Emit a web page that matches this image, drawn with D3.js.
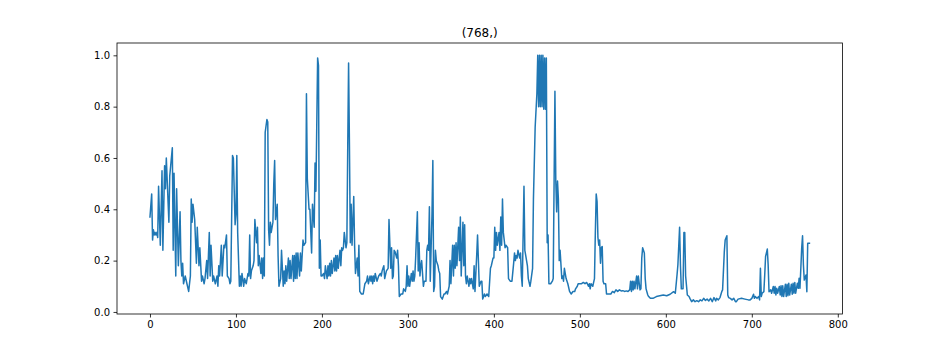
<!DOCTYPE html>
<html>
<head>
<meta charset="utf-8">
<script src="https://cdn.jsdelivr.net/npm/d3@7"></script>
<style>
  body { margin: 0; background: #fff; }
  svg { display: block; font-family: "DejaVu Sans", sans-serif; }
  .tick text { font-size: 10px; fill: #000; }
  .tick line { stroke: #000; stroke-width: 0.8; }
</style>
</head>
<body>
<div id="chart"></div>
<script>
// values, as [index, value] pairs, by region
const part0 = [[0,.37],[2,.46],[3,.28],[4,.32],[5,.30],[6,.31],[7,.30],[8,.31],[9,.29],[10,.49],[12,.26],[14,.55],[15,.24],[17,.57],[18,.48],[19,.60],[22,.35],[23,.53],[26,.64],[27,.24],[28,.54],[30,.14],[31,.48],[33,.18],[35,.39],[36,.20],[37,.14],[38,.19],[39,.11],[41,.14],[43,.11],[45,.08],[47,.14],[48,.44],[49,.35],[50,.42],[52,.36],[54,.19],[55,.33],[57,.18],[58,.25],[60,.12],[61,.14],[63,.11],[64,.13],[66,.20],[67,.13],[69,.31],[70,.14],[71,.26],[73,.12],[74,.14],[76,.11],[78,.14],[79,.10],[80,.18],[81,.14],[83,.26],[84,.14],[85,.20],[86,.26]];
const part1 = [[87,.25],[89,.30],[90,.14],[92,.13],[93,.11],[94,.12],[96,.61],[97,.60],[99,.34],[100,.38],[101,.61],[102,.31],[104,.10],[105,.14],[106,.10],[107,.15],[109,.10],[110,.13],[112,.11],[114,.15],[115,.14],[116,.30],[117,.13],[118,.16],[120,.18],[121,.20],[122,.36],[124,.27],[125,.33],[126,.18],[127,.22],[129,.15],[130,.21],[131,.13],[132,.21],[133,.14],[134,.70],[136,.75],[137,.74],[138,.32],[139,.26],[140,.35],[141,.31],[143,.35],[144,.50],[145,.59],[146,.36],[148,.42],[149,.22],[150,.10],[152,.13],[153,.24],[155,.10],[156,.16],[157,.11],[158,.18],[159,.12],[161,.21],[162,.13],[163,.20],[164,.13],[166,.22],[167,.12],[168,.22],[169,.13],[170,.23],[171,.13],[172,.23],[174,.14],[175,.23],[176,.16],[177,.22],[178,.28],[179,.26],[181,.27],[182,.85],[183,.52],[185,.40]];
const part2 = [[186,.40],[188,.23],[189,.42],[191,.33],[192,.58],[193,.47],[195,.99],[196,.96],[197,.17],[198,.28],[199,.14],[200,.14],[202,.15],[203,.13],[204,.18],[206,.13],[207,.18],[208,.14],[209,.19],[210,.14],[211,.20],[212,.15],[214,.21],[215,.16],[216,.22],[217,.16],[218,.22],[219,.17],[221,.24],[222,.18],[223,.25],[224,.24],[225,.25],[226,.31],[228,.25],[229,.27],[230,.64],[231,.97],[232,.65],[233,.27],[234,.42],[235,.26],[237,.45],[238,.26],[239,.15],[241,.21],[242,.14],[243,.26],[244,.08],[246,.07],[248,.07],[250,.11],[252,.12],[253,.14],[254,.11],[256,.14],[257,.12],[258,.14],[259,.11],[260,.14],[261,.12],[262,.15],[264,.12],[266,.14],[268,.15],[269,.14],[270,.16],[271,.17],[272,.18],[273,.13],[275,.16],[277,.17],[278,.36],[280,.17],[281,.25],[282,.13],[283,.14],[284,.24]];
const part3 = [[285,.235],[287,.21],[288,.24],[289,.18],[290,.06],[292,.07],[294,.07],[295,.09],[297,.08],[298,.10],[299,.18],[300,.10],[301,.14],[302,.10],[304,.15],[305,.12],[306,.16],[307,.12],[308,.14],[309,.21],[311,.39],[312,.16],[313,.27],[314,.14],[315,.18],[316,.20],[318,.10],[319,.12],[321,.12],[322,.24],[323,.26],[324,.24],[325,.41],[326,.12],[328,.38],[329,.59],[330,.08],[331,.10],[332,.24],[333,.20],[335,.18],[336,.16],[337,.15],[338,.06],[340,.05],[342,.07],[343,.07],[345,.08],[346,.07],[348,.10],[349,.20],[350,.11],[352,.26],[353,.14],[354,.26],[355,.17],[356,.27],[357,.18],[359,.33],[360,.20],[361,.37],[362,.14],[364,.35],[365,.18],[366,.34],[367,.14],[368,.11],[369,.14],[371,.10],[372,.13],[373,.11],[374,.13],[376,.09],[377,.18],[378,.08],[380,.22],[381,.30],[383,.10]];
const part4 = [[385,.12],[386,.12],[387,.05],[389,.07],[390,.06],[392,.07],[394,.06],[396,.17],[397,.18],[399,.21],[400,.21],[401,.33],[402,.24],[403,.31],[404,.26],[406,.31],[407,.24],[408,.37],[409,.26],[410,.44],[411,.31],[413,.25],[414,.26],[416,.25],[417,.13],[419,.12],[421,.12],[423,.19],[424,.23],[425,.20],[426,.22],[427,.21],[428,.24],[430,.21],[431,.23],[432,.14],[433,.10],[435,.49],[436,.24],[437,.22],[439,.18],[440,.13],[442,.10],[443,.12],[445,.17],[446,.44],[448,.72],[450,.85],[451,1.0],[452,.80],[453,1.0],[454,.80],[455,1.0],[456,.80],[457,1.0],[458,.79],[459,.99],[460,.79],[461,.99],[462,.27],[463,.30],[464,.11],[466,.11],[468,.12],[469,.13],[471,.86],[472,.51],[473,.39],[474,.51],[475,.44],[476,.20],[477,.24],[479,.13],[480,.14],[481,.12],[482,.17]];
const part5 = [[484,.13],[486,.11],[488,.08],[490,.07],[492,.08],[494,.08],[495,.09],[497,.10],[498,.11],[500,.11],[502,.11],[504,.115],[506,.11],[508,.115],[510,.10],[511,.11],[512,.09],[513,.11],[515,.10],[516,.115],[517,.13],[518,.31],[519,.46],[520,.43],[521,.29],[522,.26],[523,.28],[524,.19],[525,.25],[526,.255],[527,.12],[528,.11],[530,.11],[531,.07],[532,.07],[534,.07],[536,.07],[538,.08],[540,.075],[542,.086],[544,.08],[546,.086],[548,.082],[550,.083],[552,.08],[554,.082],[556,.08],[558,.086],[559,.12],[560,.08],[561,.12],[562,.086],[563,.12],[564,.09],[566,.14],[567,.09],[568,.14],[570,.086],[571,.09],[572,.21],[573,.25],[575,.23],[576,.13],[577,.09],[579,.066],[580,.06]];
const part6 = [[582,.053],[585,.053],[589,.06],[593,.063],[597,.066],[601,.063],[605,.069],[609,.079],[611,.073],[613,.144],[614,.183],[616,.33],[617,.18],[618,.09],[620,.09],[621,.31],[622,.31],[623,.14],[625,.066],[627,.06],[628,.053],[630,.04],[632,.047],[634,.04],[636,.044],[638,.04],[640,.047],[642,.043],[644,.053],[646,.045],[648,.05],[650,.043],[652,.053],[654,.04],[656,.056],[658,.043],[659,.053],[661,.047],[663,.056],[665,.079],[666,.086],[668,.235],[669,.28],[671,.297],[672,.066],[673,.056],[675,.053],[677,.047],[679,.053]];
const part7 = [[681,.04],[682,.04],[684,.05],[688,.053],[692,.05],[696,.047],[698,.047],[700,.053],[702,.069],[703,.053],[704,.06],[706,.053],[708,.06],[709,.047],[710,.17],[711,.06],[712,.073],[714,.079],[715,.144],[716,.216],[718,.245],[719,.183],[720,.079],[722,.086],[723,.073],[725,.099],[726,.073],[727,.099],[728,.066],[729,.092],[730,.073],[732,.099],[733,.066],[734,.102],[735,.06],[736,.102],[737,.06],[739,.108],[740,.06],[741,.108],[742,.063],[743,.112],[744,.066],[746,.108],[747,.069],[748,.112],[749,.073],[750,.115],[751,.073],[753,.112],[754,.092],[755,.131],[756,.092],[758,.248],[759,.297],[760,.183],[761,.124],[763,.144],[764,.079],[765,.268],[767,.268]];

const xTicks = [0, 100, 200, 300, 400, 500, 600, 700, 800];
const yTicks = [0.0, 0.2, 0.4, 0.6, 0.8, 1.0];
const title = "(768,)";

const series = [].concat(part0, part1, part2, part3, part4, part5, part6, part7);

const W = 936, H = 360;
const margin = {top: 43, right: 936 - 842.4, bottom: 360 - 314, left: 117};

const svg = d3.select("#chart").append("svg")
    .attr("width", W)
    .attr("height", H);

// matplotlib style 5% margins around the data
const xExt = d3.extent(series, d => d[0]);
const yExt = d3.extent(series, d => d[1]);
const xPad = (xExt[1] - xExt[0]) * 0.05;
const yPad = (yExt[1] - yExt[0]) * 0.05;

const x = d3.scaleLinear()
    .domain([xExt[0] - xPad, xExt[1] + xPad])
    .range([margin.left, W - margin.right]);
const y = d3.scaleLinear()
    .domain([yExt[0] - yPad, yExt[1] + yPad])
    .range([H - margin.bottom, margin.top]);

svg.append("path")
    .datum(series)
    .attr("fill", "none")
    .attr("stroke", "#1f77b4")
    .attr("stroke-width", 1.5)
    .attr("stroke-linejoin", "round")
    .attr("stroke-linecap", "square")
    .attr("d", d3.line().x(d => x(d[0])).y(d => y(d[1])));

const xAxis = svg.append("g")
    .attr("transform", `translate(0,${H - margin.bottom})`)
    .call(d3.axisBottom(x).tickValues(xTicks).tickSize(3.5).tickPadding(3.5).tickFormat(d3.format("d")));
xAxis.select(".domain").remove();

const yAxis = svg.append("g")
    .attr("transform", `translate(${margin.left},0)`)
    .call(d3.axisLeft(y).tickValues(yTicks).tickSize(3.5).tickPadding(3.5).tickFormat(d3.format(".1f")));
yAxis.select(".domain").remove();

svg.selectAll(".tick text").attr("font-family", "DejaVu Sans, sans-serif");

// spines
svg.append("rect")
    .attr("x", margin.left)
    .attr("y", margin.top)
    .attr("width", W - margin.right - margin.left)
    .attr("height", H - margin.bottom - margin.top)
    .attr("fill", "none")
    .attr("stroke", "#000")
    .attr("stroke-width", 0.8);

svg.append("text")
    .attr("x", (margin.left + W - margin.right) / 2)
    .attr("y", margin.top - 6)
    .attr("text-anchor", "middle")
    .style("font-size", "12px")
    .text(title);
</script>
</body>
</html>
